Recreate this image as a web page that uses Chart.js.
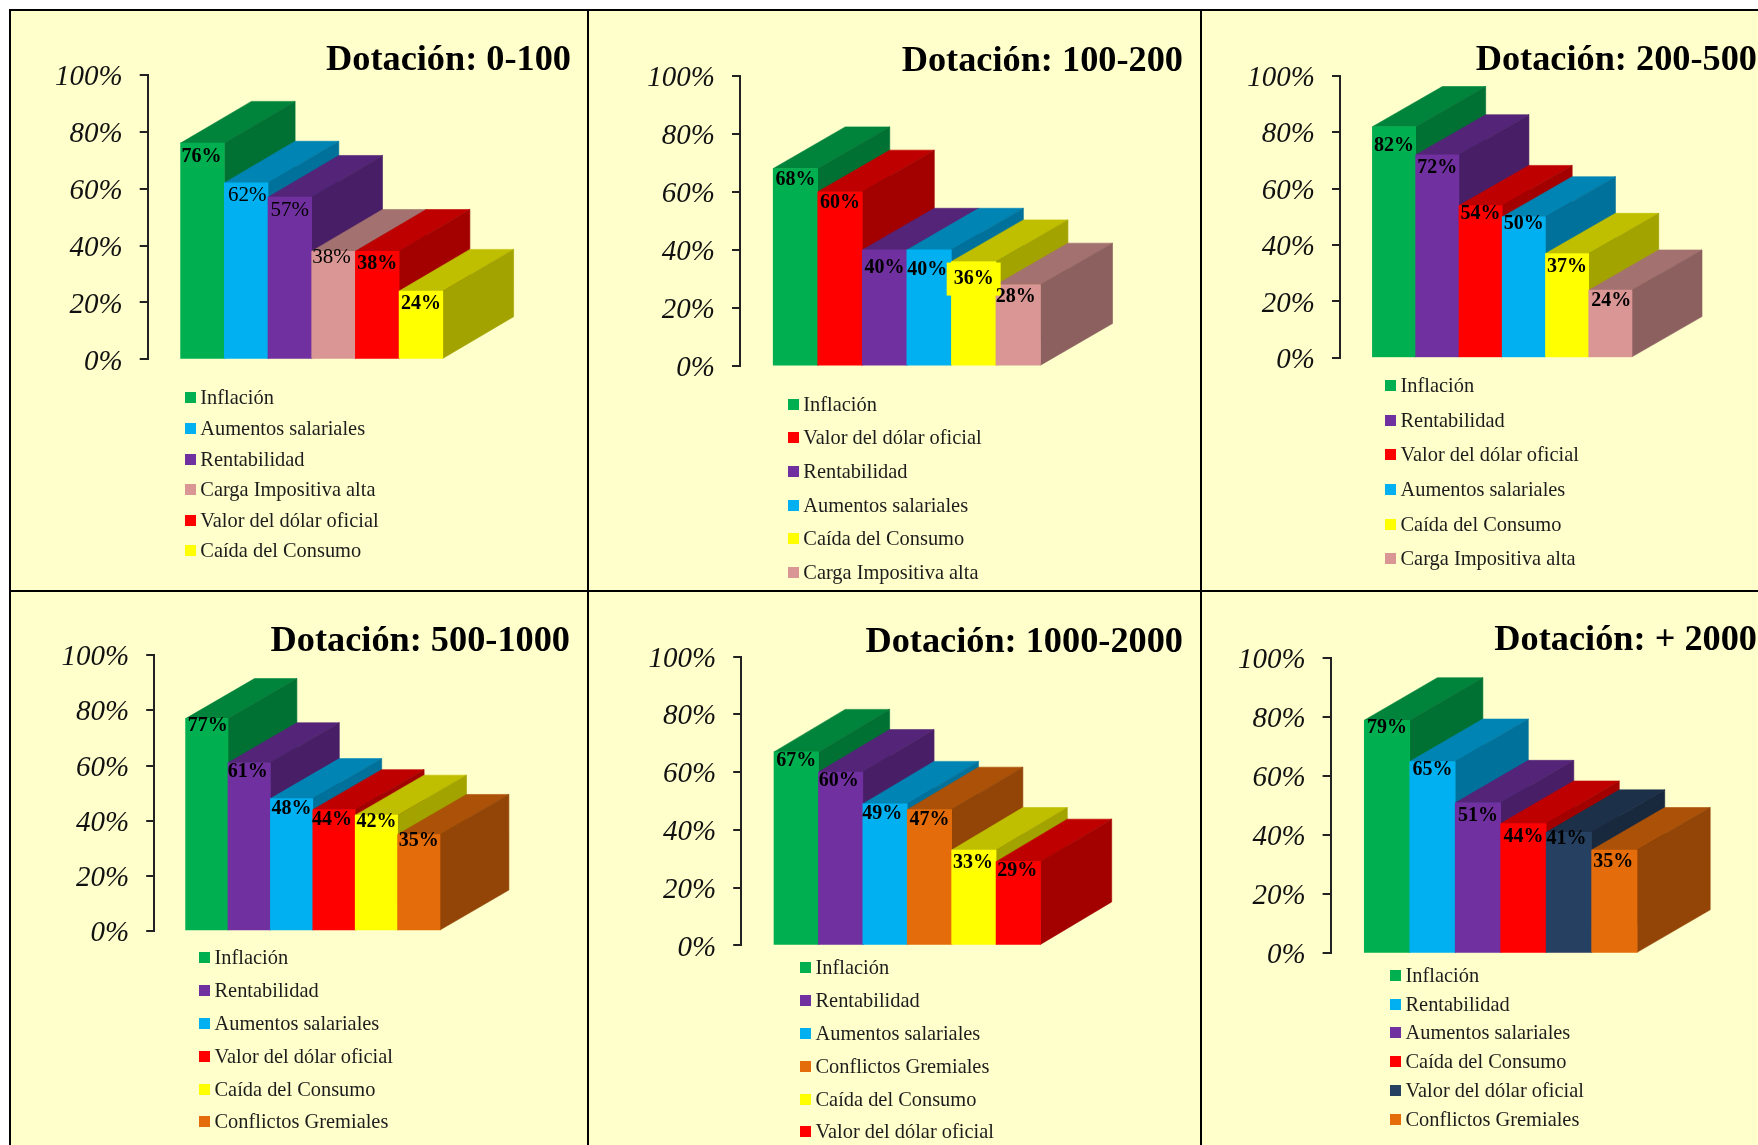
<!DOCTYPE html>
<html lang="es">
<head>
<meta charset="utf-8">
<title>Dotación</title>
<script src="https://cdn.jsdelivr.net/npm/chart.js@4/dist/chart.umd.min.js"></script>
<style>
    html, body { margin: 0; padding: 0; background: #fff; overflow: hidden; }
    #grid { position: absolute; left: 9px; top: 9px; width: 1749px; height: 1136px; background: #000; }
    .panel { position: absolute; background: #ffffcc; overflow: hidden; }
    .panel canvas { position: absolute; left: 0; top: 0; }
    .legend { position: absolute; margin: 0; padding: 0; list-style: none;
              font: 20.4px "Liberation Serif", serif; color: #1c1c1c; white-space: nowrap; }
    .legend li { display: flex; align-items: center; }
    .legend i { display: block; width: 11px; height: 11px; margin-right: 4.5px; }
</style>
</head>
<body>
<div id="grid"></div>
<script>
// ==================== DATA ====================

const GREEN = '#00b050', BLUE = '#00b0f0', PURPLE = '#7030a0', PINK = '#d99694',
      RED = '#ff0000', YELLOW = '#ffff00', ORANGE = '#e46c0a', NAVY = '#254061';

const yTicks = [0, 20, 40, 60, 80, 100];

const titles = ['Dotación: 0-100', 'Dotación: 100-200', 'Dotación: 200-500',
                'Dotación: 500-1000', 'Dotación: 1000-2000', 'Dotación: + 2000'];

const labels1 = ['Inflación', 'Aumentos salariales', 'Rentabilidad', 'Carga Impositiva alta', 'Valor del dólar oficial', 'Caída del Consumo'];
const values1 = [76, 62, 57, 38, 38, 24];
const colors1 = [GREEN, BLUE, PURPLE, PINK, RED, YELLOW];

const labels2 = ['Inflación', 'Valor del dólar oficial', 'Rentabilidad', 'Aumentos salariales', 'Caída del Consumo', 'Carga Impositiva alta'];
const values2 = [68, 60, 40, 40, 36, 28];
const colors2 = [GREEN, RED, PURPLE, BLUE, YELLOW, PINK];

const labels3 = ['Inflación', 'Rentabilidad', 'Valor del dólar oficial', 'Aumentos salariales', 'Caída del Consumo', 'Carga Impositiva alta'];
const values3 = [82, 72, 54, 50, 37, 24];
const colors3 = [GREEN, PURPLE, RED, BLUE, YELLOW, PINK];

const labels4 = ['Inflación', 'Rentabilidad', 'Aumentos salariales', 'Valor del dólar oficial', 'Caída del Consumo', 'Conflictos Gremiales'];
const values4 = [77, 61, 48, 44, 42, 35];
const colors4 = [GREEN, PURPLE, BLUE, RED, YELLOW, ORANGE];

const labels5 = ['Inflación', 'Rentabilidad', 'Aumentos salariales', 'Conflictos Gremiales', 'Caída del Consumo', 'Valor del dólar oficial'];
const values5 = [67, 60, 49, 47, 33, 29];
const colors5 = [GREEN, PURPLE, BLUE, ORANGE, YELLOW, RED];

const labels6 = ['Inflación', 'Rentabilidad', 'Aumentos salariales', 'Caída del Consumo', 'Valor del dólar oficial', 'Conflictos Gremiales'];
const values6 = [79, 65, 51, 44, 41, 35];
const colors6 = [GREEN, BLUE, PURPLE, RED, NAVY, ORANGE];

// ==================== PANEL LAYOUT (page pixels) ====================

const panels = [
    { box: [11, 11, 576, 579], axisX: 147.7, y100: 74.6, y0: 359.4, barL: 180.6, barR: 442.8, dx: 70.8, dy: 41.7,
      titleR: 571, titleY: 68.9, legX: 184.8, legY: 398, legGap: 30.6,
      labelDy: [13.6, 12.5, 13.2, 6.7, 12.9, 12.9], labelDx: [-1, 1, 0, -2, 0, 0], regular: [1, 2, 3] },
    { box: [589, 11, 611, 579], axisX: 740, y100: 75.4, y0: 366.2, barL: 773.2, barR: 1040.5, dx: 72, dy: 41.7,
      titleR: 1183, titleY: 70, legX: 787.8, legY: 404.1, legGap: 33.7,
      labelDy: [11.3, 11, 17.5, 19.4, 17.5, 11.7], labelDx: [0, 0, 0, -2, 0, -2.4], regular: [], patch: 4 },
    { box: [1202, 11, 556, 579], axisX: 1340, y100: 75.8, y0: 357.8, barL: 1372.4, barR: 1632, dx: 70, dy: 40.2,
      titleR: 1757, titleY: 68.9, legX: 1385, legY: 385.8, legGap: 34.6,
      labelDy: [19, 12.5, 8.7, 6.7, 12.9, 10.6], labelDx: [0, 0, 0, 0, 0, 1], regular: [] },
    { box: [11, 592, 576, 553], axisX: 154.2, y100: 655, y0: 931, barL: 185.6, barR: 440, dx: 68.9, dy: 40,
      titleR: 570, titleY: 650, legX: 199, legY: 957.9, legGap: 32.8,
      labelDy: [6.9, 9.1, 10.1, 10.1, 6.5, 6.5], labelDx: [1, -1.5, 0, -2, 0, 0], regular: [] },
    { box: [589, 592, 611, 553], axisX: 741.2, y100: 656.4, y0: 945.4, barL: 774, barR: 1040.5, dx: 71.2, dy: 42.5,
      titleR: 1183, titleY: 651, legX: 800, legY: 967.9, legGap: 32.8,
      labelDy: [8.5, 9.2, 9.9, 9.9, 12.8, 9.6], labelDx: [0, -2, -2.8, 0, -1, -1], regular: [] },
    { box: [1202, 592, 556, 553], axisX: 1330.6, y100: 658.1, y0: 953.3, barL: 1364.3, barR: 1637.1, dx: 73.1, dy: 42.5,
      titleR: 1757, titleY: 649.6, legX: 1390, legY: 975.3, legGap: 28.8,
      labelDy: [7.5, 8.7, 12.5, 13.2, 6.5, 11.7], labelDx: [0, 0, 0, 0, -2.5, -1], regular: [] }
];

const allLabels = [labels1, labels2, labels3, labels4, labels5, labels6];
const allValues = [values1, values2, values3, values4, values5, values6];
const allColors = [colors1, colors2, colors3, colors4, colors5, colors6];

// ==================== HELPERS ====================

function shade(hex, f) {
    const n = parseInt(hex.slice(1), 16);
    const r = Math.round((n >> 16) * f), g = Math.round(((n >> 8) & 255) * f), b = Math.round((n & 255) * f);
    return `rgb(${r},${g},${b})`;
}

function polygon(ctx, pts, fill) {
    ctx.beginPath();
    pts.forEach((p, i) => (i ? ctx.lineTo(p[0], p[1]) : ctx.moveTo(p[0], p[1])));
    ctx.closePath();
    ctx.fillStyle = fill;
    ctx.fill();
    ctx.strokeStyle = fill;
    ctx.lineWidth = 0.6;
    ctx.stroke();
}

// ==================== PLUGINS ====================

// top and side faces of the bars, painted left to right behind the fronts
const depthPlugin = {
    id: 'depth',
    beforeDatasetsDraw(chart, args, opts) {
        const ctx = chart.ctx;
        ctx.save();
        chart.getDatasetMeta(0).data.forEach((bar, i) => {
            const left = bar.x - bar.width / 2, right = bar.x + bar.width / 2;
            const color = opts.colors[i];
            polygon(ctx, [[left, bar.y], [left + opts.dx, bar.y - opts.dy], [right + opts.dx, bar.y - opts.dy], [right, bar.y]], shade(color, 0.75));
            polygon(ctx, [[right, bar.y], [right + opts.dx, bar.y - opts.dy], [right + opts.dx, bar.base - opts.dy], [right, bar.base]], shade(color, 0.64));
        });
        ctx.restore();
    }
};

// percentage written on each front face
const valueLabelPlugin = {
    id: 'valueLabel',
    afterDatasetsDraw(chart, args, opts) {
        const ctx = chart.ctx;
        const values = chart.data.datasets[0].data;
        ctx.save();
        ctx.textAlign = 'center';
        ctx.textBaseline = 'middle';
        chart.getDatasetMeta(0).data.forEach((bar, i) => {
            const x = bar.x + opts.dx[i], y = bar.y + opts.dy[i];
            if (opts.patch === i) {
                ctx.fillStyle = opts.colors[i];
                ctx.fillRect(x - 27, y - 16.5, 54, 33);
            }
            ctx.font = opts.regular.includes(i) ? '21px "Liberation Serif"' : 'bold 20px "Liberation Serif"';
            ctx.fillStyle = '#000';
            ctx.fillText(values[i].y + '%', x, y);
        });
        ctx.restore();
    }
};

// y tick labels sit a little below their tick marks in the original
const tickShiftPlugin = {
    id: 'tickShift',
    afterLayout(chart) {
        chart.scales.y.getLabelItems().forEach(item => { item.options.translation[1] += 2.5; });
    }
};

// ==================== BUILD CHARTS ====================

const grid = document.getElementById('grid');

panels.forEach((p, n) => {
    const [px, py, pw, ph] = p.box;
    const panel = document.createElement('div');
    panel.className = 'panel';
    panel.style.cssText = `left:${px - 9}px;top:${py - 9}px;width:${pw}px;height:${ph}px`;
    const canvas = document.createElement('canvas');
    canvas.width = pw;
    canvas.height = ph;
    panel.appendChild(canvas);

    // HTML legend, one row per category
    const legend = document.createElement('ul');
    legend.className = 'legend';
    legend.style.left = (p.legX - px) + 'px';
    legend.style.top = (p.legY - p.legGap / 2 - py) + 'px';
    allLabels[n].forEach((text, i) => {
        const li = document.createElement('li');
        li.style.height = p.legGap + 'px';
        li.innerHTML = `<i style="background:${allColors[n][i]}"></i><span>${text}</span>`;
        legend.appendChild(li);
    });
    panel.appendChild(legend);
    grid.appendChild(panel);

    const barW = (p.barR - p.barL) / 6;
    const titleBaseline = p.titleY - py;
    const chartTop = p.y100 - py;

    new Chart(canvas, {
        type: 'bar',
        plugins: [depthPlugin, valueLabelPlugin, tickShiftPlugin],
        data: {
            labels: allLabels[n],
            datasets: [{
                data: allValues[n].map((v, i) => ({ x: i, y: v })),
                backgroundColor: allColors[n],
                categoryPercentage: 1,
                barPercentage: 1,
                borderWidth: 0
            }]
        },
        options: {
            responsive: false,
            animation: false,
            layout: {
                padding: {
                    left: 0,
                    right: px + pw - p.titleR,
                    top: titleBaseline - 19.4,
                    bottom: py + ph - p.y0
                }
            },
            scales: {
                x: {
                    type: 'linear',
                    display: false,
                    bounds: 'data',
                    min: -0.5 - (p.barL - p.axisX) / barW,
                    max: 5.5 + (p.titleR - p.barR) / barW,
                    ticks: { stepSize: 1 },
                    afterBuildTicks: s => { s.ticks = s.ticks.filter(t => Number.isInteger(t.value)); }
                },
                y: {
                    min: 0,
                    max: 100,
                    afterFit: s => { s.width = p.axisX - px; },
                    afterBuildTicks: s => { s.ticks = yTicks.map(v => ({ value: v })); },
                    border: { color: '#222', width: 2 },
                    grid: { drawOnChartArea: false, drawTicks: true, tickLength: 8, color: '#222', lineWidth: 2 },
                    ticks: {
                        padding: 17,
                        color: '#111',
                        font: { family: '"Liberation Serif"', size: 29, style: 'italic' },
                        callback: v => v + '%'
                    }
                }
            },
            plugins: {
                legend: { display: false },
                tooltip: { enabled: false },
                title: {
                    display: true,
                    text: titles[n],
                    align: 'end',
                    color: '#000',
                    font: { family: '"Liberation Serif"', size: 36.3, weight: 'bold', lineHeight: 0.6 },
                    padding: { top: 0, bottom: chartTop - titleBaseline - 2.2 }
                },
                depth: { colors: allColors[n], dx: p.dx, dy: p.dy },
                valueLabel: { colors: allColors[n], dx: p.labelDx, dy: p.labelDy, regular: p.regular, patch: p.patch }
            }
        }
    });
});
</script>
</body>
</html>
